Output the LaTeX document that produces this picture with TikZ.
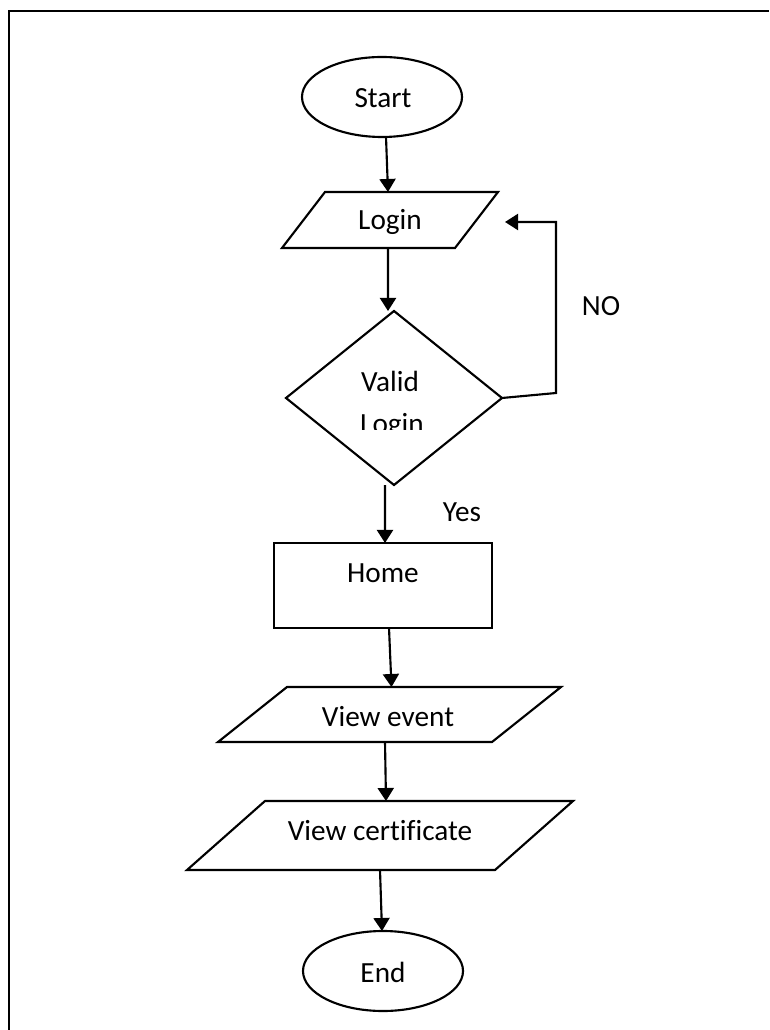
\documentclass[tikz,border=0pt]{standalone}
\usepackage{fontspec}
\setmainfont{Carlito}[Ligatures=NoCommon]
\usetikzlibrary{shapes.geometric,arrows.meta,calc}

% outline of a slanted input/output box around a plain rectangle node
\newcommand\drawslant[2]{%
  \draw[shapeline] ([xshift=-#2]#1.south west) -- ([xshift=-#2]#1.south east)
    -- ([xshift=#2]#1.north east) -- ([xshift=#2]#1.north west) -- cycle;}

\tikzset{
  shapeline/.style={line width=0.85pt, line join=miter},
  body/.style={inner sep=0pt, outer sep=0pt},
  terminal/.style={body, ellipse, draw, shapeline, minimum width=64pt, minimum height=32pt},
  process/.style={body, rectangle, draw, shapeline},
  iobody/.style={body, rectangle},
  decision/.style={body, diamond, draw, shapeline, minimum width=86.4pt, minimum height=69.6pt},
  txt/.style={inner sep=0pt, anchor=base, font=\fontsize{11.7pt}{14pt}\selectfont},
  flow/.style={line width=0.85pt, -{Triangle[length=5.2pt,width=6.4pt]}},
}

\begin{document}
\begin{tikzpicture}[x=0.4pt, y=-0.4pt]
\useasboundingbox (0,0) rectangle (769,1030);

% page frame
\draw[line width=1.1pt] (9,1030) -- (9,11) -- (769,11);

% shapes
\node[terminal] (start) at (382,97) {};
\node[iobody, minimum width=69.2pt, minimum height=22.4pt] (login) at (390,220) {};
\drawslant{login}{8.6pt}
\node[decision] (valid) at (394,398) {};
\node[process, minimum width=87.2pt, minimum height=34pt] (home) at (383,585.5) {};
\node[iobody, minimum width=109.6pt, minimum height=22pt] (event) at (389.5,714.5) {};
\drawslant{event}{13.8pt}
\node[iobody, minimum width=123.2pt, minimum height=27.6pt] (cert) at (380,835.5) {};
\drawslant{cert}{15.6pt}
\node[terminal] (end) at (383,971) {};

% texts
\node[txt] (starttxt) at (383,108) {Start};
\node[txt] (logintxt) at (390,230) {Login};
\begin{scope}
  \clip (300,340) rectangle (490,430);
  \node[txt] (validtxt) at (390,392) {Valid};
  \node[txt] (validtxtb) at (392,434) {Login};
\end{scope}
\node[txt] (hometxt) at (383,582) {Home};
\node[txt] (eventtxt) at (388,726) {View event};
\node[txt] (certtxt) at (380,840) {View certificate};
\node[txt] (endtxt) at (383,982) {End};
\node[txt] (notxt) at (601,316) {NO};
\node[txt] (yestxt) at (462,522) {Yes};

% connectors
\draw[flow] ([xshift=1.6pt]start.south) -- ([xshift=-0.8pt]login.north);
\draw[flow] ([xshift=-0.8pt]login.south) -- ([xshift=-2.4pt]valid.north);
\draw[flow] ([xshift=-3.6pt]valid.south) -- ([xshift=0.8pt]home.north);
\draw[flow] ([xshift=2.4pt]home.south) -- ([xshift=0.8pt]event.north);
\draw[flow] ([xshift=-1.8pt]event.south) -- ([xshift=2.4pt]cert.north);
\draw[flow] (cert.south) -- ([xshift=-0.4pt]end.north);

% loop back when the login is not valid
\coordinate (nocorner) at (556,393);
\coordinate (notip) at (505,222);
\draw[flow] (valid.east) -- (nocorner) -- (nocorner |- notip) -- (notip);
\end{tikzpicture}
\end{document}
